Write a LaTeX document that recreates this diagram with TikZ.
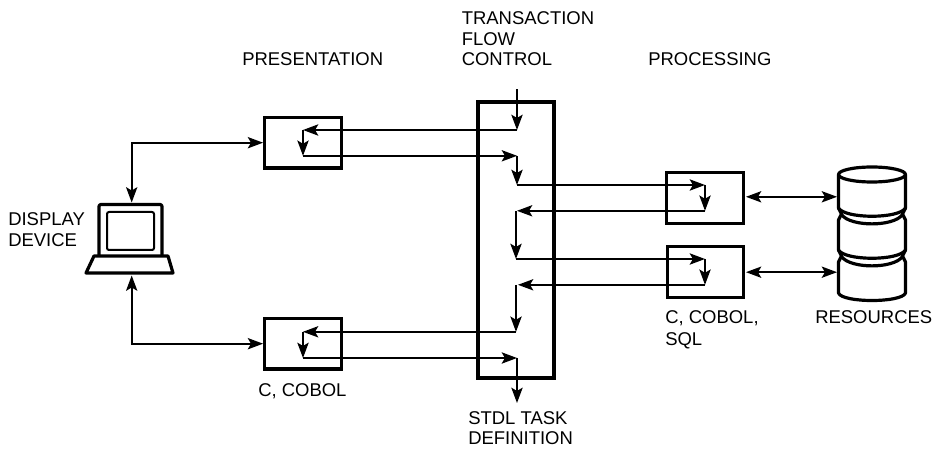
\documentclass[tikz,border=0pt]{standalone}
\usepackage{fontspec}
\setmainfont{Liberation Sans}
\usetikzlibrary{arrows.meta}
\begin{document}
\begin{tikzpicture}[x=0.75pt,y=-0.75pt,
  box/.style={draw,line width=2.4pt,inner sep=0pt,minimum width=57.5pt,minimum height=38pt},
  flow/.style={line width=1.25pt,-{Stealth[length=11.5pt,width=8.5pt,inset=2.5pt]}},
  both/.style={line width=1.25pt,{Stealth[length=11.5pt,width=8.5pt,inset=2.5pt]}-{Stealth[length=11.5pt,width=8.5pt,inset=2.5pt]}},
  solid3/.style={line width=2.4pt,line join=round},
  lab/.style={anchor=base west,inner sep=0pt,font=\fontsize{13.85pt}{16pt}\selectfont}]
\useasboundingbox (0,0) rectangle (933,449);
% boxes
\node[box] (pt) at (303,142.7) {};
\node[box] (pb) at (303,343.7) {};
\node[box] (rt) at (705,198) {};
\node[box] (rb) at (705.5,272) {};
\node[box,line width=2.6pt,minimum width=57pt,minimum height=207pt] (tf) at (516,240) {};
% flow coordinates
\coordinate (in) at (517,89.5);
\coordinate (a1) at (517,130); \coordinate (a2) at (303,130);
\coordinate (a3) at (303,155.8); \coordinate (a4) at (517,155.8);
\coordinate (a5) at (517,185); \coordinate (a6) at (705,185);
\coordinate (a7) at (705,210.8); \coordinate (a8) at (517,210.8);
\coordinate (a8b) at (516,211);
\coordinate (a9) at (516,259); \coordinate (a10) at (705,259);
\coordinate (a11) at (705,284.8); \coordinate (a12) at (518,284.8);
\coordinate (a12b) at (516,285);
\coordinate (a13) at (516,331.8); \coordinate (a14) at (303,331.8);
\coordinate (a15) at (303,358); \coordinate (a16) at (517,358);
\coordinate (out) at (517,403);
\draw[flow] (in) -- (a1);
\draw[flow] (a1) -- (a2);
\draw[flow] (a2) -- (a3);
\draw[flow] (a3) -- (a4);
\draw[flow] (a4) -- (a5);
\draw[flow] (a5) -- (a6);
\draw[flow] (a6) -- (a7);
\draw[flow] (a7) -- (a8);
\draw[flow] (a8b) -- (a9);
\draw[flow] (a9) -- (a10);
\draw[flow] (a10) -- (a11);
\draw[flow] (a11) -- (a12);
\draw[flow] (a12b) -- (a13);
\draw[flow] (a13) -- (a14);
\draw[flow] (a14) -- (a15);
\draw[flow] (a15) -- (a16);
\draw[flow] (a16) -- (out);
% laptop
\coordinate (lt) at (131.7,202.5);
\coordinate (lb) at (131.7,275.5);
\draw[solid3,rounded corners=1.5pt] (99,255) -- (99,204.5) -- (162,204.5) -- (162,255);
\draw[line width=1.5pt,rounded corners=1.5pt] (107,212) rectangle (154,250);
\draw[solid3] (94,256) -- (168,256) -- (173,273) -- (86,273) -- cycle;
\draw[both] (lt) |- (pt.west);
\draw[both] (lb) |- (pb.west);
% cylinders
\coordinate (ct) at (837,196.8);
\coordinate (cb) at (837,272.2);
\coordinate (rtp) at (746,196.8);
\coordinate (rbp) at (746,272.2);
\draw[solid3] (872,174.5) ellipse [x radius=33.5,y radius=7.5];
\draw[solid3] (838.5,174.5) -- (838.5,208) -- (841.5,214) -- (838.5,220) -- (838.5,250) -- (841.5,256) -- (838.5,262) -- (838.5,293)
  .. controls (842,303) and (902,303) .. (905.5,293)
  -- (905.5,262) -- (902.5,256) -- (905.5,250) -- (905.5,220) -- (902.5,214) -- (905.5,208) -- (905.5,174.5);
\draw[solid3] (838.5,208) .. controls (845,219) and (899,219) .. (905.5,208);
\draw[solid3] (841.5,214.5) .. controls (850,227) and (894,227) .. (902.5,214.5);
\draw[solid3] (838.5,250) .. controls (845,261) and (899,261) .. (905.5,250);
\draw[solid3] (841.5,256.5) .. controls (850,269) and (894,269) .. (902.5,256.5);
\draw[both] (rtp) -- (ct);
\draw[both] (rbp) -- (cb);
% labels
\node[lab] (t1) at (461.5,25) {TRANSACTION};
\node[lab] (t2) at (461.5,45.5) {FLOW};
\node[lab] (t3) at (461.5,66) {CONTROL};
\node[lab] (t4) at (242,66) {PRESENTATION};
\node[lab] (t5) at (648,66) {PROCESSING};
\node[lab] (t6) at (8,226) {DISPLAY};
\node[lab] (t7) at (8,246.5) {DEVICE};
\node[lab] (t8) at (258,397) {C, COBOL};
\node[lab] (t9) at (665,324) {C, COBOL,};
\node[lab] (t10) at (665,345) {SQL};
\node[lab] (t11) at (815,324) {RESOURCES};
\node[lab] (t12) at (468,424) {STDL TASK};
\node[lab] (t13) at (468,445) {DEFINITION};
\end{tikzpicture}
\end{document}
